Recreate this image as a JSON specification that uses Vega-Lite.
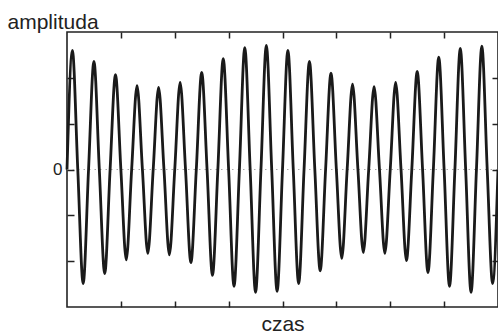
{
  "$schema": "https://vega.github.io/schema/vega-lite/v6.json",
  "autosize": "none",
  "padding": {"left": 67, "top": 32, "right": 0, "bottom": 26},
  "width": 431,
  "height": 275,
  "background": "white",
  "config": {
    "view": {"stroke": "#222", "strokeWidth": 1.6},
    "axis": {"grid": false, "domain": false, "tickColor": "#222", "tickWidth": 1.5,
             "labelFont": "Liberation Sans", "titleFont": "Liberation Sans",
             "labelColor": "#222", "titleColor": "#222", "titleFontWeight": "normal"}
  },
  "datasets": {
    "wave": [
      {"t": 0.0, "a": 0}, {"t": 0.1, "a": 2.60}, {"t": 0.2, "a": 0}, {"t": 0.3, "a": -2.49},
      {"t": 0.4, "a": 0}, {"t": 0.5, "a": 2.36}, {"t": 0.6, "a": 0}, {"t": 0.7, "a": -2.27},
      {"t": 0.8, "a": 0}, {"t": 0.9, "a": 2.07}, {"t": 1.0, "a": 0}, {"t": 1.1, "a": -1.97},
      {"t": 1.2, "a": 0}, {"t": 1.3, "a": 1.83}, {"t": 1.4, "a": 0}, {"t": 1.5, "a": -1.83},
      {"t": 1.6, "a": 0}, {"t": 1.7, "a": 1.79}, {"t": 1.8, "a": 0}, {"t": 1.9, "a": -1.86},
      {"t": 2.0, "a": 0}, {"t": 2.1, "a": 1.90}, {"t": 2.2, "a": 0}, {"t": 2.3, "a": -2.03},
      {"t": 2.4, "a": 0}, {"t": 2.5, "a": 2.12}, {"t": 2.6, "a": 0}, {"t": 2.7, "a": -2.31},
      {"t": 2.8, "a": 0}, {"t": 2.9, "a": 2.42}, {"t": 3.0, "a": 0}, {"t": 3.1, "a": -2.55},
      {"t": 3.2, "a": 0}, {"t": 3.3, "a": 2.66}, {"t": 3.4, "a": 0}, {"t": 3.5, "a": -2.68},
      {"t": 3.6, "a": 0}, {"t": 3.7, "a": 2.71}, {"t": 3.8, "a": 0}, {"t": 3.9, "a": -2.66},
      {"t": 4.0, "a": 0}, {"t": 4.1, "a": 2.60}, {"t": 4.2, "a": 0}, {"t": 4.3, "a": -2.49},
      {"t": 4.4, "a": 0}, {"t": 4.5, "a": 2.36}, {"t": 4.6, "a": 0}, {"t": 4.7, "a": -2.21},
      {"t": 4.8, "a": 0}, {"t": 4.9, "a": 2.10}, {"t": 5.0, "a": 0}, {"t": 5.1, "a": -1.94},
      {"t": 5.2, "a": 0}, {"t": 5.3, "a": 1.86}, {"t": 5.4, "a": 0}, {"t": 5.5, "a": -1.81},
      {"t": 5.6, "a": 0}, {"t": 5.7, "a": 1.81}, {"t": 5.8, "a": 0}, {"t": 5.9, "a": -1.83},
      {"t": 6.0, "a": 0}, {"t": 6.1, "a": 1.90}, {"t": 6.2, "a": 0}, {"t": 6.3, "a": -1.99},
      {"t": 6.4, "a": 0}, {"t": 6.5, "a": 2.14}, {"t": 6.6, "a": 0}, {"t": 6.7, "a": -2.25},
      {"t": 6.8, "a": 0}, {"t": 6.9, "a": 2.45}, {"t": 7.0, "a": 0}, {"t": 7.1, "a": -2.55},
      {"t": 7.2, "a": 0}, {"t": 7.3, "a": 2.64}, {"t": 7.4, "a": 0}, {"t": 7.5, "a": -2.68},
      {"t": 7.6, "a": 0}, {"t": 7.7, "a": 2.69}, {"t": 7.8, "a": 0}, {"t": 7.9, "a": -2.49},
      {"t": 8.0, "a": 0}
    ],
    "zero": [{"t": 0, "a": 0}, {"t": 8, "a": 0}]
  },
  "resolve": {"axis": {"x": "independent", "y": "independent"}},
  "layer": [
    {
      "data": {"name": "zero"},
      "mark": {"type": "line", "color": "#aaa", "strokeWidth": 1, "strokeDash": [1.5, 4]},
      "encoding": {
        "x": {"field": "t", "type": "quantitative",
              "scale": {"domain": [0, 8], "nice": false, "zero": false},
              "axis": {"orient": "top", "values": [1, 2, 3, 4, 5, 6, 7], "tickSize": -6, "labels": false, "title": null}},
        "y": {"field": "a", "type": "quantitative",
              "scale": {"domain": [-3, 3], "nice": false, "zero": false},
              "axis": {"orient": "right", "values": [-2, -1, 0, 1, 2], "tickSize": -6, "labels": false, "title": null}}
      }
    },
    {
      "data": {"name": "wave"},
      "mark": {"type": "line", "color": "#1a1a1a", "strokeWidth": 2.8, "interpolate": "monotone"},
      "encoding": {
        "x": {"field": "t", "type": "quantitative",
              "axis": {"orient": "bottom", "values": [1, 2, 3, 4, 5, 6, 7], "tickSize": -6, "labels": false,
                       "title": "czas", "titleFontSize": 21, "titleY": 23, "titleBaseline": "alphabetic"}},
        "y": {"field": "a", "type": "quantitative",
              "axis": {"orient": "left", "values": [-2, -1, 0, 1, 2], "tickSize": -7,
                       "labelExpr": "datum.value == 0 ? '0' : ''", "labelFontSize": 17, "labelPadding": 12,
                       "title": "amplituda", "titleAngle": 0, "titleFontSize": 21, "titleAlign": "left",
                       "titleBaseline": "alphabetic", "titleX": -60, "titleY": -4}}
      }
    }
  ]
}
